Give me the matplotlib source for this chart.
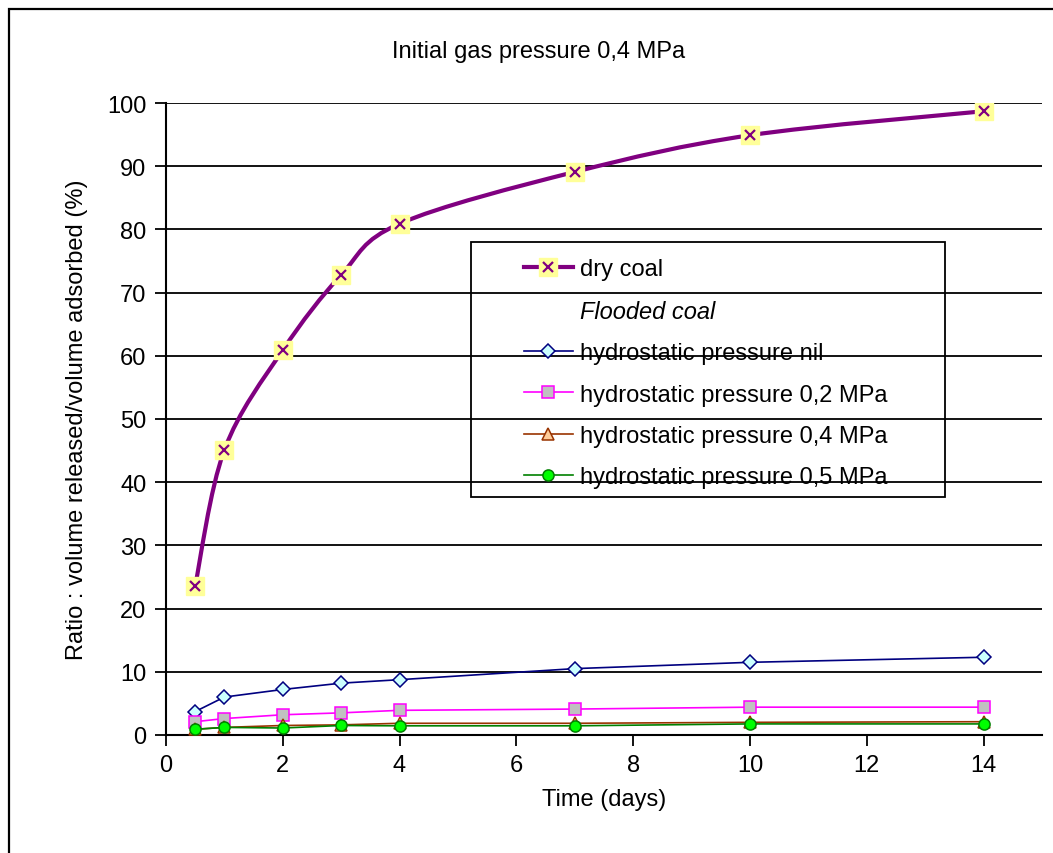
import matplotlib
matplotlib.use("Agg")
import matplotlib.pyplot as plt
from matplotlib.lines import Line2D
from matplotlib.patches import Rectangle, PathPatch
from matplotlib.path import Path
from matplotlib.legend_handler import HandlerTuple
import numpy as np

plt.rcParams['font.family'] = ['Liberation Sans', 'DejaVu Sans']

# data
days = [0.5, 1, 2, 3, 4, 7, 10, 14]
dry_coal = [23.6, 45.1, 60.9, 72.8, 80.9, 89.1, 94.9, 98.7]
hydro_nil = [3.7, 6.0, 7.2, 8.2, 8.75, 10.5, 11.5, 12.3]
hydro_02 = [2.1, 2.6, 3.2, 3.5, 3.9, 4.1, 4.4, 4.4]
hydro_04 = [0.9, 1.2, 1.5, 1.6, 1.85, 1.85, 2.0, 2.1]
hydro_05 = [0.9, 1.2, 1.1, 1.5, 1.45, 1.45, 1.75, 1.75]

title = "Initial gas pressure 0,4 MPa"
xlabel = "Time (days)"
ylabel = "Ratio : volume released/volume adsorbed (%)"

FS = 17

fig = plt.figure(figsize=(10.53, 8.54), dpi=100)
ax = fig.add_axes([0.1576, 0.1382, 0.9895 - 0.1576, 0.8782 - 0.1382])


def smooth_path(xs, ys):
    # Catmull-Rom style smoothing (like Excel's smoothed line) as bezier path
    pts = np.column_stack([xs, ys]).astype(float)
    n = len(pts)
    verts = [pts[0]]
    codes = [Path.MOVETO]
    for i in range(n - 1):
        p0 = pts[i - 1] if i > 0 else pts[i]
        p1 = pts[i]
        p2 = pts[i + 1]
        p3 = pts[i + 2] if i + 2 < n else pts[i + 1]
        c1 = p1 + (p2 - p0) / 6.0
        c2 = p2 - (p3 - p1) / 6.0
        verts += [c1, c2, p2]
        codes += [Path.CURVE4] * 3
    return Path(verts, codes)


purple = "#800080"
ax.add_patch(PathPatch(smooth_path(days, dry_coal), fill=False,
                       edgecolor=purple, lw=3.0, zorder=3))
dry_sq = ax.plot(days, dry_coal, ls="none", marker="s", ms=13,
                 mfc="#FFFF99", mec="#FFFF99", zorder=4)[0]
dry_x = ax.plot(days, dry_coal, ls="none", marker="x", ms=7, mew=1.6,
                color=purple, zorder=5)[0]

l_nil = ax.plot(days, hydro_nil, color="#000080", lw=1.2, marker="D", ms=7.5,
                mfc="#CCFFFF", mec="#000080", mew=1.1, zorder=4)[0]
l_02 = ax.plot(days, hydro_02, color="#FF00FF", lw=1.2, marker="s", ms=8,
               mfc="#C0C0C0", mec="#FF00FF", mew=1.1, zorder=4)[0]
l_04 = ax.plot(days, hydro_04, color="#993300", lw=1.2, marker="^", ms=8.5,
               mfc="#FFCC99", mec="#993300", mew=1.1, zorder=4)[0]
l_05 = ax.plot(days, hydro_05, color="#008000", lw=1.2, marker="o", ms=8,
               mfc="#00FF00", mec="#008000", mew=1.1, zorder=5)[0]

ax.set_xlim(0, 15)
ax.set_ylim(0, 100)
ax.set_xticks(range(0, 15, 2))
ax.set_yticks(range(0, 101, 10))
ax.yaxis.grid(True, color="black", lw=1.3)
ax.set_axisbelow(True)
for s in ["top", "right"]:
    ax.spines[s].set_visible(False)
for s in ["left", "bottom"]:
    ax.spines[s].set_linewidth(1.5)
ax.tick_params(axis="both", direction="out", length=8, width=1.3,
               labelsize=FS, pad=6)

ax.set_xlabel(xlabel, fontsize=FS, labelpad=8)
ax.set_ylabel(ylabel, fontsize=FS, labelpad=14)
fig.text(0.511, 0.939, title, fontsize=FS, ha="center", va="center")

# legend with frame drawn separately (Excel-like padding)
dry_line = Line2D([], [], color=purple, lw=3.0)
blank = Line2D([], [], ls="none")
handles = [(dry_line, dry_sq, dry_x), blank, l_nil, l_02, l_04, l_05]
labels = ["dry coal", "Flooded coal", "hydrostatic pressure nil",
          "hydrostatic pressure 0,2 MPa", "hydrostatic pressure 0,4 MPa",
          "hydrostatic pressure 0,5 MPa"]
leg = fig.legend(handles, labels, loc="upper left",
                 bbox_to_anchor=(0.486, 0.710), frameon=False, fontsize=FS,
                 handlelength=2.1, handletextpad=0.3, labelspacing=0.82,
                 borderpad=0, handler_map={tuple: HandlerTuple(ndivide=1)})
leg.get_texts()[1].set_fontstyle("italic")

fig.patches.append(Rectangle((471 / 1053, 1 - 498 / 854), (945 - 471) / 1053,
                             (498 - 243) / 854, transform=fig.transFigure,
                             fill=False, edgecolor="black", lw=1.3, zorder=10))
# outer chart border (runs off right and bottom like the reference)
fig.patches.append(Rectangle((9 / 1053, -0.1), 1.2, 1 - 10 / 854 + 0.1,
                             transform=fig.transFigure, fill=False,
                             edgecolor="black", lw=1.6, zorder=10))

fig.savefig("out.png", dpi=100)
